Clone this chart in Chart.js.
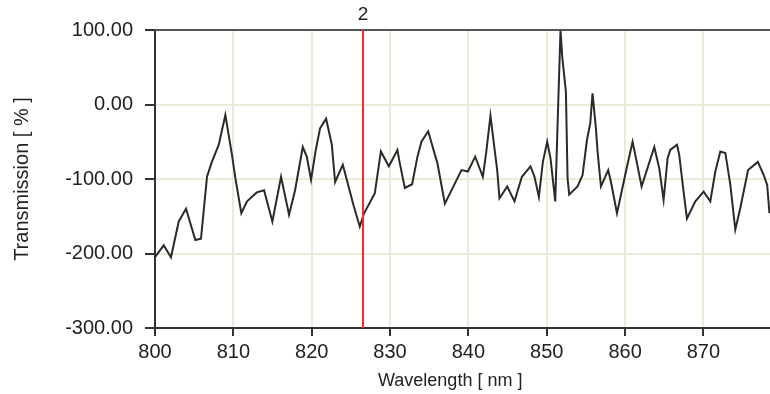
<!DOCTYPE html>
<html>
<head>
<meta charset="utf-8">
<script src="https://cdn.jsdelivr.net/npm/chart.js@4"></script>
<style>
  html, body { margin: 0; padding: 0; background: #fff; }
  #wrap { width: 770px; height: 394px; }
</style>
</head>
<body>
<div id="wrap"><canvas id="canvas" width="770" height="394"></canvas></div>
<script>
// wavelengths [nm]
const wavelengths = [800.00, 801.11, 802.04, 803.03, 803.96, 805.15, 805.87, 806.64, 807.19, 808.14,
  808.98, 809.83, 810.26, 811.02, 811.75, 812.99, 813.92, 814.98, 816.09, 817.11,
  817.88, 818.86, 819.37, 819.92, 820.52, 821.07, 821.84, 822.57, 822.99, 823.97,
  824.48, 825.33, 826.14, 826.69, 828.06, 828.83, 829.85, 830.94, 831.25, 831.89,
  832.82, 833.50, 834.01, 834.87, 836.05, 837.00, 839.12, 839.94, 840.87, 841.85,
  842.27, 842.82, 843.33, 843.68, 843.97, 844.96, 845.89, 846.83, 847.93, 848.44,
  849.00, 849.51, 850.06, 850.48, 851.09, 851.43, 851.76, 851.98, 852.45, 852.66,
  852.87, 853.93, 854.57, 855.13, 855.56, 855.85, 856.28, 856.49, 856.92, 857.85,
  858.20, 858.97, 860.11, 860.96, 861.39, 862.11, 863.73, 864.37, 864.92, 865.43,
  865.77, 866.63, 866.92, 867.47, 867.90, 868.97, 870.03, 870.88, 871.52, 872.16,
  872.80, 873.44, 874.07, 874.71, 875.70, 876.95, 877.71, 878.14, 878.43];

// transmission [%]
const transmission = [-205, -189, -205, -157, -140, -182, -180, -97, -79, -54,
  -14, -68, -99, -146, -130, -118, -115, -157, -97, -148,
  -115, -57, -70, -101, -61, -32, -19, -54, -104, -81,
  -101, -135, -164, -146, -119, -63, -83, -61, -79, -112,
  -107, -70, -50, -36, -79, -133, -88, -90, -70, -97,
  -65, -15, -59, -88, -126, -110, -130, -97, -83, -97,
  -124, -77, -50, -72, -130, -12, 100, 64, 17, -99,
  -121, -110, -95, -48, -25, 15, -32, -63, -110, -88,
  -104, -146, -90, -50, -72, -110, -57, -86, -128, -72,
  -61, -54, -68, -117, -153, -130, -117, -130, -90, -63,
  -65, -108, -168, -139, -88, -77, -95, -108, -146];

// cursor markers
const markerPositions = [826.5];
const markerLabels = ['2'];

const xMin = 800, xMax = 878.5;
const yMin = -300, yMax = 100;
const xTitle = 'Wavelength [ nm ]';
const yTitle = 'Transmission [ % ]';

const points = wavelengths.map((w, i) => ({ x: w, y: transmission[i] }));

const FAMILY = "'Liberation Sans', Arial, sans-serif";
const TICK_FONT = { family: FAMILY, size: 20 };
const YTITLE_FONT = { family: FAMILY, size: 20 };
const TEXT = '#222';
const GRID = 'rgb(238,234,216)';
const AXIS = '#333';

const markerPlugin = {
  id: 'markers',
  afterDatasetsDraw(chart) {
    const { ctx, chartArea, scales } = chart;
    ctx.save();
    // top frame line
    ctx.strokeStyle = '#555';
    ctx.lineWidth = 2;
    ctx.beginPath();
    ctx.moveTo(chartArea.left, chartArea.top);
    ctx.lineTo(chartArea.right, chartArea.top);
    ctx.stroke();

    markerPositions.forEach((m, i) => {
      const x = Math.round(scales.x.getPixelForValue(m));
      ctx.strokeStyle = 'rgb(255,40,40)';
      ctx.lineWidth = 2;
      ctx.beginPath();
      ctx.moveTo(x, chartArea.top);
      ctx.lineTo(x, chartArea.bottom);
      ctx.stroke();
      ctx.fillStyle = TEXT;
      ctx.font = '19px ' + FAMILY;
      ctx.textAlign = 'center';
      ctx.textBaseline = 'alphabetic';
      ctx.fillText(markerLabels[i], x, chartArea.top - 10);
    });

    // x axis title, sits a little left of the plot centre in the original
    ctx.fillStyle = TEXT;
    ctx.font = '18px ' + FAMILY;
    ctx.textAlign = 'center';
    ctx.textBaseline = 'middle';
    ctx.fillText(xTitle, chartArea.left + (chartArea.right - chartArea.left) * 0.48, 381);
    ctx.restore();
  }
};

const config = {
  type: 'line',
  data: {
    datasets: [{
      data: points,
      borderColor: '#2a2a2a',
      borderWidth: 2,
      pointRadius: 0,
      tension: 0,
      fill: false
    }]
  },
  options: {
    responsive: false,
    animation: false,
    layout: { padding: { top: 30, left: 0, right: 0, bottom: 0 } },
    plugins: { legend: { display: false }, tooltip: { enabled: false } },
    scales: {
      x: {
        type: 'linear',
        min: xMin,
        max: xMax,
        afterFit: (s) => { s.height = 66; },
        border: { color: AXIS, width: 2 },
        grid: { color: GRID, lineWidth: 2, tickColor: AXIS, tickLength: 8 },
        ticks: { stepSize: 10, includeBounds: false, color: TEXT, font: TICK_FONT, padding: 4, maxRotation: 0 }
      },
      y: {
        min: yMin,
        max: yMax,
        afterFit: (s) => { s.width = 155; },
        border: { color: AXIS, width: 2 },
        grid: { color: GRID, lineWidth: 2, tickColor: AXIS, tickLength: 10 },
        ticks: { stepSize: 100, color: TEXT, font: TICK_FONT, padding: 12, callback: (v) => v.toFixed(2) },
        title: { display: true, text: yTitle, color: TEXT, font: YTITLE_FONT, padding: { top: 10, bottom: 0 } }
      }
    }
  },
  plugins: [markerPlugin]
};

const chart = new Chart(document.getElementById('canvas'), config);
</script>
</body>
</html>
